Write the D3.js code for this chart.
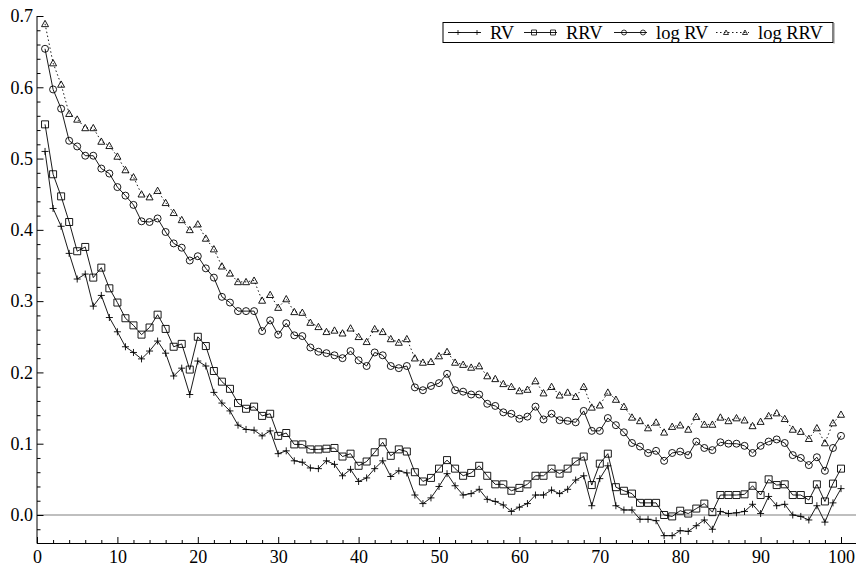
<!DOCTYPE html>
<html>
<head>
<meta charset="utf-8">
<script src="https://cdn.jsdelivr.net/npm/d3@7"></script>
<style>
  body { margin: 0; background: #fff; }
  svg text { font-family: "Liberation Serif", "Times New Roman", serif !important; fill: #000; }
</style>
</head>
<body>
<svg id="chart"></svg>
<script>
// lag index 1..100
const lags = d3.range(1, 101);

const rv = [
  0.510, 0.430, 0.405, 0.367, 0.331, 0.338, 0.293, 0.308, 0.277, 0.257,
  0.236, 0.228, 0.219, 0.230, 0.244, 0.227, 0.195, 0.206, 0.169, 0.216,
  0.209, 0.172, 0.157, 0.146, 0.126, 0.120, 0.119, 0.111, 0.118, 0.086,
  0.090, 0.076, 0.074, 0.066, 0.065, 0.076, 0.071, 0.055, 0.064, 0.047,
  0.052, 0.065, 0.076, 0.054, 0.062, 0.059, 0.028, 0.016, 0.024, 0.040,
  0.058, 0.041, 0.028, 0.030, 0.036, 0.022, 0.019, 0.014, 0.005, 0.011,
  0.016, 0.028, 0.028, 0.035, 0.030, 0.036, 0.049, 0.055, 0.013, 0.051,
  0.069, 0.013, 0.007, 0.007, -0.006, -0.006, -0.008, -0.029, -0.029, -0.022,
  -0.023, -0.015, -0.007, -0.020, 0.005, 0.002, 0.003, 0.005, 0.015, 0.002,
  0.026, 0.013, 0.015, 0.000, -0.002, -0.007, 0.013, -0.010, 0.017, 0.037
];

const rrv = [
  0.548, 0.478, 0.447, 0.411, 0.370, 0.376, 0.333, 0.347, 0.318, 0.298,
  0.276, 0.266, 0.253, 0.263, 0.281, 0.261, 0.236, 0.240, 0.204, 0.250,
  0.237, 0.202, 0.187, 0.177, 0.157, 0.149, 0.152, 0.139, 0.142, 0.111,
  0.115, 0.099, 0.099, 0.092, 0.092, 0.093, 0.094, 0.082, 0.086, 0.069,
  0.075, 0.088, 0.102, 0.083, 0.092, 0.089, 0.060, 0.047, 0.052, 0.065,
  0.077, 0.065, 0.055, 0.059, 0.069, 0.055, 0.043, 0.043, 0.034, 0.038,
  0.043, 0.055, 0.055, 0.065, 0.058, 0.065, 0.075, 0.082, 0.042, 0.072,
  0.086, 0.039, 0.034, 0.030, 0.017, 0.017, 0.017, 0.000, -0.002, 0.006,
  0.002, 0.009, 0.016, 0.004, 0.028, 0.028, 0.028, 0.029, 0.041, 0.028,
  0.050, 0.042, 0.043, 0.028, 0.028, 0.021, 0.043, 0.019, 0.044, 0.065
];

const logRv = [
  0.654, 0.597, 0.570, 0.525, 0.517, 0.504, 0.504, 0.486, 0.479, 0.460,
  0.448, 0.435, 0.412, 0.411, 0.416, 0.397, 0.381, 0.375, 0.357, 0.363,
  0.346, 0.333, 0.306, 0.298, 0.286, 0.286, 0.286, 0.258, 0.273, 0.253,
  0.269, 0.252, 0.251, 0.235, 0.229, 0.227, 0.224, 0.220, 0.230, 0.217,
  0.209, 0.228, 0.224, 0.209, 0.206, 0.209, 0.179, 0.175, 0.181, 0.185,
  0.198, 0.175, 0.173, 0.169, 0.169, 0.156, 0.153, 0.144, 0.142, 0.135,
  0.138, 0.152, 0.134, 0.142, 0.133, 0.132, 0.130, 0.146, 0.118, 0.118,
  0.136, 0.126, 0.116, 0.101, 0.096, 0.087, 0.090, 0.076, 0.087, 0.089,
  0.084, 0.103, 0.094, 0.091, 0.102, 0.100, 0.100, 0.097, 0.087, 0.097,
  0.103, 0.106, 0.101, 0.084, 0.080, 0.070, 0.081, 0.062, 0.094, 0.111
];

const logRrv = [
  0.689, 0.634, 0.604, 0.563, 0.555, 0.543, 0.543, 0.524, 0.518, 0.503,
  0.484, 0.474, 0.450, 0.446, 0.455, 0.438, 0.424, 0.414, 0.400, 0.408,
  0.388, 0.373, 0.349, 0.339, 0.327, 0.327, 0.329, 0.301, 0.309, 0.291,
  0.303, 0.285, 0.284, 0.270, 0.264, 0.257, 0.259, 0.255, 0.262, 0.250,
  0.243, 0.261, 0.257, 0.247, 0.242, 0.247, 0.220, 0.214, 0.215, 0.223,
  0.229, 0.214, 0.211, 0.207, 0.209, 0.195, 0.191, 0.184, 0.180, 0.174,
  0.176, 0.188, 0.171, 0.180, 0.168, 0.172, 0.166, 0.180, 0.151, 0.154,
  0.172, 0.162, 0.152, 0.137, 0.132, 0.122, 0.130, 0.116, 0.124, 0.126,
  0.120, 0.138, 0.127, 0.127, 0.137, 0.132, 0.136, 0.133, 0.125, 0.131,
  0.139, 0.143, 0.135, 0.120, 0.117, 0.107, 0.122, 0.101, 0.129, 0.141
];

const seriesNames = ['RV', 'RRV', 'log RV', 'log RRV'];
const seriesMarkers = ['plus', 'square', 'circle', 'triangle'];
const xTicks = [0, 10, 20, 30, 40, 50, 60, 70, 80, 90, 100];
const yTicks = [0.0, 0.1, 0.2, 0.3, 0.4, 0.5, 0.6, 0.7];

const config = {
  width: 856,
  height: 566,
  margin: { top: 16, right: 15, bottom: 22.5, left: 37 },
  majorTick: 6.5,
  minorTick: 3.5,
  tickFont: '18px',
  legendFont: '18.5px'
};

const series = [rv, rrv, logRv, logRrv].map((vals, k) => ({
  name: seriesNames[k],
  marker: seriesMarkers[k],
  dashed: k === 3,
  values: vals.map((v, i) => ({ x: lags[i], y: v }))
}));

const svg = d3.select('#chart')
    .attr('width', config.width)
    .attr('height', config.height);

const plotBottom = config.height - config.margin.bottom;

const xScale = d3.scaleLinear()
    .domain([0, 100])
    .range([config.margin.left, config.width - config.margin.right]);

const yScale = d3.scaleLinear()
    .domain([-0.04, 0.7])
    .range([plotBottom, config.margin.top]);

// zero reference line
svg.append('line')
    .attr('x1', config.margin.left)
    .attr('x2', config.width)
    .attr('y1', yScale(0))
    .attr('y2', yScale(0))
    .attr('stroke', '#aaa')
    .attr('stroke-width', 1.5);

// x axis: minor ticks then major ticks, pointing up into the plot
const xMinor = d3.axisTop(xScale)
    .tickValues(d3.range(0, 101, 2).filter(v => v % 10 !== 0))
    .tickSize(config.minorTick)
    .tickFormat('');
svg.append('g')
    .attr('transform', `translate(0,${plotBottom})`)
    .call(xMinor)
    .call(g => g.select('.domain').remove());

const xAxis = d3.axisBottom(xScale)
    .tickValues(xTicks)
    .tickSize(0)
    .tickFormat(d3.format('d'));
const xAxisG = svg.append('g')
    .attr('transform', `translate(0,${plotBottom})`)
    .call(xAxis)
    .call(g => g.select('.domain').remove());
xAxisG.selectAll('.tick line').remove();
xAxisG.selectAll('.tick')
    .append('line')
    .attr('y2', -config.majorTick)
    .attr('stroke', '#000');
xAxisG.selectAll('text')
    .attr('dy', null)
    .attr('y', 19.5)
    .style('font-family', '"Liberation Serif", serif')
    .style('font-size', config.tickFont);

svg.append('line')
    .attr('x1', config.margin.left)
    .attr('x2', config.width)
    .attr('y1', plotBottom)
    .attr('y2', plotBottom)
    .attr('stroke', '#000');

// y axis
const yMinor = d3.axisRight(yScale)
    .tickValues(d3.range(-0.02, 0.7, 0.02).filter(v => Math.abs(v * 10 - Math.round(v * 10)) > 1e-6))
    .tickSize(config.minorTick)
    .tickFormat('');
svg.append('g')
    .attr('transform', `translate(${config.margin.left},0)`)
    .call(yMinor)
    .call(g => g.select('.domain').remove());

const yAxis = d3.axisLeft(yScale)
    .tickValues(yTicks)
    .tickSize(0)
    .tickPadding(4)
    .tickFormat(d3.format('.1f'));
const yAxisG = svg.append('g')
    .attr('transform', `translate(${config.margin.left},0)`)
    .call(yAxis)
    .call(g => g.select('.domain').remove());
yAxisG.selectAll('.tick line').remove();
yAxisG.selectAll('.tick')
    .append('line')
    .attr('x2', config.majorTick)
    .attr('stroke', '#000');
yAxisG.selectAll('text')
    .style('font-family', '"Liberation Serif", serif')
    .style('font-size', config.tickFont);

svg.append('line')
    .attr('x1', config.margin.left)
    .attr('x2', config.margin.left)
    .attr('y1', yScale(0.7))
    .attr('y2', plotBottom)
    .attr('stroke', '#000');

// marker shapes
function markerPath(type, s) {
  const h = s / 2;
  switch (type) {
    case 'plus':
      return `M${-h},0H${h}M0,${-h}V${h}`;
    case 'square':
      return `M${-h},${-h}H${h}V${h}H${-h}Z`;
    case 'circle':
      return `M${h},0A${h},${h} 0 1,1 ${-h},0A${h},${h} 0 1,1 ${h},0Z`;
    case 'triangle':
      return `M0,${-h}L${h},${h * 0.8}H${-h}Z`;
  }
}

const line = d3.line()
    .x(d => xScale(d.x))
    .y(d => yScale(d.y));

series.forEach(s => {
  svg.append('path')
      .datum(s.values)
      .attr('fill', 'none')
      .attr('stroke', '#000')
      .attr('stroke-width', 0.9)
      .attr('stroke-dasharray', s.dashed ? '1.5,2.5' : null)
      .attr('d', line);

  svg.append('g')
      .selectAll('path')
      .data(s.values)
      .join('path')
      .attr('transform', d => `translate(${xScale(d.x)},${yScale(d.y)})`)
      .attr('d', markerPath(s.marker, 7))
      .attr('fill', 'none')
      .attr('stroke', '#000')
      .attr('stroke-width', 0.9);
});

// legend
const legend = svg.append('g');
legend.append('rect')
    .attr('x', 443)
    .attr('y', 22.5)
    .attr('width', 390)
    .attr('height', 20)
    .attr('fill', '#fff')
    .attr('stroke', '#000')
    .attr('stroke-width', 1);
legend.append('line')
    .attr('x1', 834).attr('x2', 834)
    .attr('y1', 23).attr('y2', 43.5)
    .attr('stroke', '#888');

const legendLineX = [448, 524, 614, 716];
const legendTextX = [490, 566, 656, 758];
series.forEach((s, k) => {
  const g = legend.append('g').attr('transform', `translate(${legendLineX[k]},32.5)`);
  g.append('line')
      .attr('x1', 0).attr('x2', 33)
      .attr('stroke', '#000')
      .attr('stroke-width', 0.9)
      .attr('stroke-dasharray', s.dashed ? '1.5,2.5' : null);
  [10, 29].forEach(px => {
    g.append('path')
        .attr('transform', `translate(${px},0)`)
        .attr('d', markerPath(s.marker, 5))
        .attr('fill', 'none')
        .attr('stroke', '#000')
        .attr('stroke-width', 0.8);
  });
  legend.append('text')
      .attr('x', legendTextX[k])
      .attr('y', 38.5)
      .style('font-size', config.legendFont)
      .text(s.name);
});
</script>
</body>
</html>
